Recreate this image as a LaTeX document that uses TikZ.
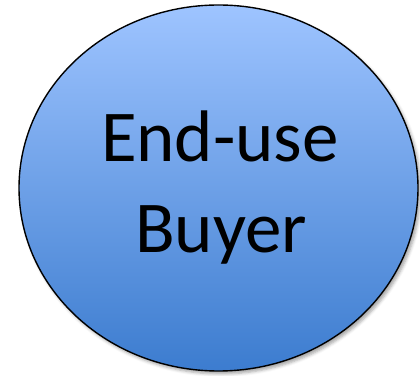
\documentclass[tikz,border=0pt]{standalone}
\usepackage{fontspec}
\setmainfont{Carlito}
\usetikzlibrary{shapes.geometric,shadows.blur}
\definecolor{bubbletop}{RGB}{158,196,255}
\definecolor{bubblebottom}{RGB}{60,124,207}
\tikzset{
  bubble/.style={ellipse, draw=black, line width=1.4pt,
    minimum width=399pt, minimum height=366pt, inner sep=0pt,
    top color=bubbletop, bottom color=bubblebottom,
    blur shadow={shadow xshift=2.5pt, shadow yshift=-3pt,
      shadow blur radius=3pt, shadow opacity=35}},
  bubbletext/.style={anchor=base, inner sep=0pt,
    font=\fontsize{73}{90}\selectfont, text=black}
}
\begin{document}
\begin{tikzpicture}[x=1pt,y=1pt]
  \useasboundingbox (0,0) rectangle (420,375);
  \node[bubble] (buyer) at (218.5,187) {};
  \node[bubbletext] (line1) at (220,213) {End-use};
  \node[bubbletext] (line2) at (221,123) {Buyer};
\end{tikzpicture}
\end{document}
